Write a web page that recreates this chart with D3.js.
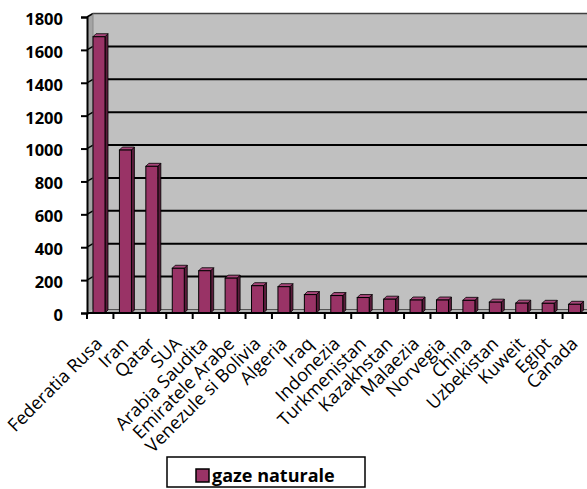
<!DOCTYPE html>
<html>
<head>
<meta charset="utf-8">
<script src="https://cdn.jsdelivr.net/npm/d3@7"></script>
<style>
  html, body { margin: 0; padding: 0; background: #fff; }
  svg { display: block; font-family: "Open Sans", sans-serif; }
</style>
</head>
<body>
<svg id="chart" width="587" height="489"></svg>
<script>
const categories = ["Federatia Rusa","Iran","Qatar","SUA","Arabia Saudita","Emiratele Arabe","Venezule si Bolivia","Algeria","Iraq","Indonezia","Turkmenistan","Kazakhstan","Malaezia","Norvegia","China","Uzbekistan","Kuweit","Egipt","Canada"];
const values = [1680, 991, 892, 272, 257, 212, 166, 160, 112, 106, 94, 84, 79, 79, 77, 66, 60, 59, 53];
const yTicks = [0, 200, 400, 600, 800, 1000, 1200, 1400, 1600, 1800];
const seriesName = "gaze naturale";

const svg = d3.select("#chart");
const x0 = 87, x1 = 589, yTop = 17, yBot = 313;
const DX = 6, DY = -3.5;      // wall depth offset
const bdx = 3, bdy = -3;      // bar depth offset

const x = d3.scaleBand().domain(categories).range([x0, x1]).padding(0);
const y = d3.scaleLinear().domain([0, 1800]).range([yBot, yTop]);

// back wall
svg.append("rect").attr("x", x0 + DX).attr("y", yTop + DY).attr("width", 600).attr("height", yBot - yTop)
  .attr("fill", "#c0c0c0");
// left side wall
svg.append("polygon")
  .attr("points", [[x0, yTop], [x0 + DX, yTop + DY], [x0 + DX, yBot + DY], [x0, yBot]].map(p => p.join(",")).join(" "))
  .attr("fill", "#a4a4a4");
// floor
svg.append("polygon")
  .attr("points", [[x0, yBot], [x0 + DX, yBot + DY], [600, yBot + DY], [600, yBot]].map(p => p.join(",")).join(" "))
  .attr("fill", "#b0b0b0");
// top border of back wall
svg.append("line").attr("x1", x0 + DX).attr("x2", 600).attr("y1", yTop + DY).attr("y2", yTop + DY)
  .attr("stroke", "#404040").attr("stroke-width", 1.5);

// gridlines
const g = svg.append("g");
yTicks.forEach(t => {
  const yy = y(t);
  if (t > 0 && t < 1800) {
    g.append("line").attr("x1", x0 + DX).attr("x2", 600).attr("y1", yy + DY).attr("y2", yy + DY)
      .attr("stroke", "#000").attr("stroke-width", 2);
  }
  if (t > 0) {
    g.append("line").attr("x1", x0).attr("x2", x0 + DX).attr("y1", yy).attr("y2", yy + DY)
      .attr("stroke", "#000").attr("stroke-width", 1.5);
  }
});
// floor back line
svg.append("line").attr("x1", x0 + DX).attr("x2", 600).attr("y1", yBot + DY).attr("y2", yBot + DY)
  .attr("stroke", "#555").attr("stroke-width", 1);
svg.append("line").attr("x1", x0 + DX).attr("x2", x0 + DX).attr("y1", yTop + DY).attr("y2", yBot + DY)
  .attr("stroke", "#888").attr("stroke-width", 1);

// bars
const bars = svg.append("g");
categories.forEach((c, i) => {
  const v = values[i];
  const bw = 12;
  const bx = x(c) + 6;
  const top = y(v), bot = yBot;
  bars.append("polygon")
    .attr("points", [[bx + bw, top], [bx + bw + bdx, top + bdy], [bx + bw + bdx, bot + bdy], [bx + bw, bot]].map(p => p.join(",")).join(" "))
    .attr("fill", "#5a1c3b").attr("stroke", "#000").attr("stroke-width", 0.8);
  bars.append("polygon")
    .attr("points", [[bx, top], [bx + bdx, top + bdy], [bx + bw + bdx, top + bdy], [bx + bw, top]].map(p => p.join(",")).join(" "))
    .attr("fill", "#a8467a").attr("stroke", "#000").attr("stroke-width", 0.8);
  bars.append("rect").attr("x", bx).attr("y", top).attr("width", bw).attr("height", bot - top)
    .attr("fill", "#993366").attr("stroke", "#000").attr("stroke-width", 1);
});

// y axis
const yAxis = svg.append("g").attr("transform", `translate(${x0},0)`)
  .call(d3.axisLeft(y).tickValues(yTicks).tickSize(6).tickPadding(18).tickFormat(d3.format("d")));
yAxis.select(".domain").attr("stroke", "#000").attr("stroke-width", 2);
yAxis.selectAll(".tick line").attr("stroke", "#000").attr("stroke-width", 2);
yAxis.selectAll(".tick text").attr("font-family", "Open Sans").attr("font-weight", "bold")
  .attr("font-size", 16.5).attr("fill", "#000").attr("dy", "0.45em");

// x axis
const xAxis = svg.append("g").attr("transform", `translate(0,${yBot})`);
xAxis.append("line").attr("x1", x0).attr("x2", x1).attr("y1", 0).attr("y2", 0).attr("stroke", "#000").attr("stroke-width", 2);
const boundaries = categories.map(c => x(c)).concat([x(categories[categories.length - 1]) + x.bandwidth()]);
boundaries.forEach(b => {
  xAxis.append("line").attr("x1", b).attr("x2", b).attr("y1", 0).attr("y2", 6).attr("stroke", "#000").attr("stroke-width", 2);
});
categories.forEach(c => {
  const cx = x(c) + x.bandwidth() / 2 + 3;
  xAxis.append("text").attr("transform", `translate(${cx},${32}) rotate(-45)`)
    .attr("text-anchor", "end").attr("font-size", 18).attr("fill", "#000").text(c);
});

// legend
const lg = svg.append("g");
lg.append("rect").attr("x", 167).attr("y", 457).attr("width", 198).attr("height", 30)
  .attr("fill", "#fff").attr("stroke", "#000").attr("stroke-width", 1.5);
lg.append("rect").attr("x", 196).attr("y", 469).attr("width", 13).attr("height", 13)
  .attr("fill", "#993366").attr("stroke", "#000").attr("stroke-width", 1.5);
lg.append("text").attr("x", 212).attr("y", 482).attr("font-size", 18).attr("font-weight", "bold")
  .attr("fill", "#000").text(seriesName);
</script>
</body>
</html>
